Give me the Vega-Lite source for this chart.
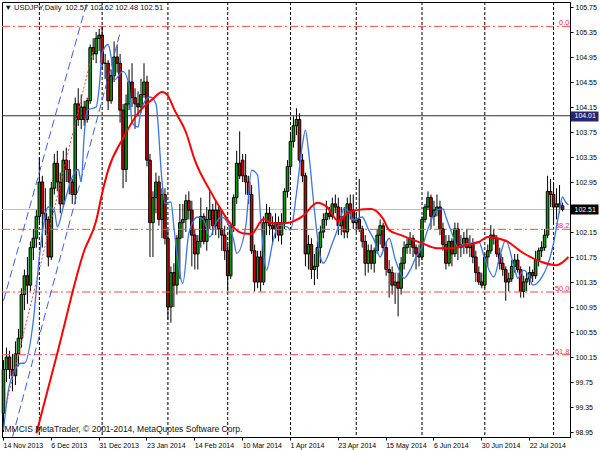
{
"$schema":"https://vega.github.io/schema/vega-lite/v6.json",
"width":568,"height":435,
"autosize":{"type":"none"},
"padding":{"left":2,"top":2,"right":30,"bottom":13},
"background":"white",
"config":{"view":{"stroke":"#000","strokeWidth":1},"font":"Liberation Sans",
 "axis":{"grid":false,"domainColor":"#000","labelFont":"Liberation Sans","labelFontSize":7,"labelOverlap":false,"labelFlush":false,"labelBound":false,"labelColor":"#000","tickColor":"#000"}},
"resolve":{"scale":{"color":"independent","strokeDash":"independent","strokeWidth":"independent"}},
"datasets":{
"bars":[
{"d":"2013-11-14","o":99.25,"h":100.1,"l":98.95,"c":99.95,"f":98.98,"u":101.05},
{"d":"2013-11-15","o":99.95,"h":100.3,"l":99.75,"c":100.15,"r":99.41},
{"d":"2013-11-18","o":100.15,"h":100.25,"l":99.8,"c":99.95,"f":99.7,"w":98.69},
{"d":"2013-11-19","o":99.95,"h":100.2,"l":99.6,"c":99.85},
{"d":"2013-11-20","o":99.85,"h":100.4,"l":99.7,"c":100.2},
{"d":"2013-11-21","o":100.2,"h":100.6,"l":100.0,"c":100.45},
{"d":"2013-11-22","o":100.45,"h":101.25,"l":100.3,"c":101.15,"f":100.05},
{"d":"2013-11-25","o":101.15,"h":101.55,"l":100.9,"c":101.45,"f":100.05},
{"d":"2013-11-26","o":101.45,"h":101.75,"l":101.0,"c":101.3},
{"d":"2013-11-27","o":101.3,"h":102.0,"l":101.2,"c":101.9},
{"d":"2013-11-28","o":101.9,"h":102.2,"l":101.7,"c":102.05,"f":100.74},
{"d":"2013-11-29","o":102.05,"h":102.5,"l":101.9,"c":102.4,"ma":98.93},
{"d":"2013-12-02","o":102.4,"h":103.35,"l":102.3,"c":102.95,"f":101.75,"m":1},
{"d":"2013-12-03","o":102.95,"h":103.05,"l":101.9,"c":102.45},
{"d":"2013-12-04","o":102.45,"h":102.85,"l":102.1,"c":102.35},
{"d":"2013-12-05","o":102.35,"h":102.4,"l":101.6,"c":101.75,"f":102.55},
{"d":"2013-12-06","o":101.75,"h":102.95,"l":101.7,"c":102.85},
{"d":"2013-12-09","o":102.85,"h":103.4,"l":102.75,"c":103.25,"f":102.5},
{"d":"2013-12-10","o":103.25,"h":103.45,"l":102.8,"c":102.95,"f":102.23,"ma":100.21},
{"d":"2013-12-11","o":102.95,"h":103.1,"l":102.45,"c":102.6},
{"d":"2013-12-12","o":102.6,"h":103.45,"l":102.55,"c":103.3,"f":102.55},
{"d":"2013-12-13","o":103.3,"h":103.5,"l":102.95,"c":103.15},
{"d":"2013-12-16","o":103.15,"h":103.3,"l":102.75,"c":102.95},
{"d":"2013-12-17","o":102.95,"h":103.0,"l":102.6,"c":102.75,"f":103.03},
{"d":"2013-12-18","o":102.75,"h":104.3,"l":102.6,"c":104.2},
{"d":"2013-12-19","o":104.2,"h":104.45,"l":103.85,"c":103.95,"f":103.15},
{"d":"2013-12-20","o":103.95,"h":104.35,"l":103.8,"c":104.15,"f":102.95},
{"d":"2013-12-23","o":104.15,"h":104.25,"l":103.85,"c":103.95,"f":103.7,"ma":101.85},
{"d":"2013-12-24","o":103.95,"h":104.3,"l":103.9,"c":104.25,"f":104.1,"u":105.84},
{"d":"2013-12-26","o":104.25,"h":105.15,"l":104.2,"c":105.1},
{"d":"2013-12-27","o":105.1,"h":105.25,"l":104.9,"c":105.0,"r":105.06},
{"d":"2013-12-30","o":105.0,"h":105.35,"l":104.85,"c":105.25,"f":104.15,"ma":102.33},
{"d":"2013-12-31","o":105.25,"h":105.4,"l":105.05,"c":105.3,"f":104.45},
{"d":"2014-01-02","o":105.3,"h":105.44,"l":104.75,"c":104.85,"f":105.01,"ma":102.77,"m":1},
{"d":"2014-01-03","o":104.85,"h":105.0,"l":104.6,"c":104.85},
{"d":"2014-01-06","o":104.85,"h":104.9,"l":104.1,"c":104.25,"f":105.15,"ma":103.14},
{"d":"2014-01-07","o":104.25,"h":104.75,"l":104.2,"c":104.65,"f":104.95},
{"d":"2014-01-08","o":104.65,"h":105.2,"l":104.55,"c":104.95,"f":104.58},
{"d":"2014-01-09","o":104.95,"h":105.15,"l":104.7,"c":104.85},
{"d":"2014-01-10","o":104.85,"h":105.0,"l":103.9,"c":104.1,"w":105.34},
{"d":"2014-01-13","o":104.1,"h":104.2,"l":102.85,"c":103.15,"f":104.72,"ma":103.65},
{"d":"2014-01-14","o":103.15,"h":104.35,"l":102.95,"c":104.2},
{"d":"2014-01-15","o":104.2,"h":104.75,"l":104.1,"c":104.55,"f":104.5},
{"d":"2014-01-16","o":104.55,"h":104.85,"l":104.15,"c":104.3,"f":103.9},
{"d":"2014-01-17","o":104.3,"h":104.45,"l":103.8,"c":104.2},
{"d":"2014-01-20","o":104.2,"h":104.4,"l":104.0,"c":104.15,"f":103.83,"ma":104.05},
{"d":"2014-01-21","o":104.15,"h":104.6,"l":104.05,"c":104.35,"f":104.1},
{"d":"2014-01-22","o":104.35,"h":104.85,"l":104.3,"c":104.55},
{"d":"2014-01-23","o":104.55,"h":104.65,"l":103.2,"c":103.3},
{"d":"2014-01-24","o":103.3,"h":103.4,"l":101.75,"c":102.3,"f":104.31},
{"d":"2014-01-27","o":102.3,"h":102.8,"l":101.75,"c":102.7,"ma":104.28},
{"d":"2014-01-28","o":102.7,"h":103.1,"l":102.45,"c":102.95,"f":104.2},
{"d":"2014-01-29","o":102.95,"h":103.05,"l":102.25,"c":102.35},
{"d":"2014-01-30","o":102.35,"h":102.85,"l":102.05,"c":102.75,"f":102.98,"ma":104.39},
{"d":"2014-01-31","o":102.75,"h":102.85,"l":101.95,"c":102.05,"f":102.61},
{"d":"2014-02-03","o":102.05,"h":102.2,"l":100.75,"c":100.95,"ma":104.33,"m":1},
{"d":"2014-02-04","o":100.95,"h":101.6,"l":100.7,"c":101.5,"f":102.63},
{"d":"2014-02-05","o":101.5,"h":101.65,"l":100.95,"c":101.3,"f":102.23,"ma":104.12},
{"d":"2014-02-06","o":101.3,"h":102.1,"l":101.15,"c":102.05,"f":101.81},
{"d":"2014-02-07","o":102.05,"h":102.6,"l":101.4,"c":102.3},
{"d":"2014-02-10","o":102.3,"h":102.6,"l":102.05,"c":102.35,"f":101.33},
{"d":"2014-02-11","o":102.35,"h":102.75,"l":102.15,"c":102.65,"ma":103.75},
{"d":"2014-02-12","o":102.65,"h":102.8,"l":102.35,"c":102.5,"f":102.13},
{"d":"2014-02-13","o":102.5,"h":102.65,"l":101.6,"c":102.1},
{"d":"2014-02-14","o":102.1,"h":102.2,"l":101.55,"c":101.8,"ma":103.3},
{"d":"2014-02-17","o":101.8,"h":102.1,"l":101.55,"c":102.0,"f":102.39},
{"d":"2014-02-18","o":102.0,"h":102.7,"l":101.9,"c":102.4},
{"d":"2014-02-19","o":102.4,"h":102.45,"l":101.95,"c":102.0,"f":102.34},
{"d":"2014-02-20","o":102.0,"h":102.55,"l":101.85,"c":102.35},
{"d":"2014-02-21","o":102.35,"h":102.8,"l":102.2,"c":102.5,"f":102.07,"ma":102.82},
{"d":"2014-02-24","o":102.5,"h":102.6,"l":102.1,"c":102.25},
{"d":"2014-02-25","o":102.25,"h":102.65,"l":102.1,"c":102.5,"f":102.29},
{"d":"2014-02-26","o":102.5,"h":102.55,"l":102.05,"c":102.2,"ma":102.57},
{"d":"2014-02-27","o":102.2,"h":102.5,"l":101.85,"c":102.1,"f":102.39},
{"d":"2014-02-28","o":102.1,"h":102.25,"l":101.7,"c":101.85},
{"d":"2014-03-03","o":101.85,"h":101.95,"l":101.2,"c":101.45,"f":102.29,"m":1},
{"d":"2014-03-04","o":101.45,"h":102.3,"l":101.4,"c":102.25},
{"d":"2014-03-05","o":102.25,"h":102.75,"l":102.15,"c":102.7,"f":102.02,"ma":102.22},
{"d":"2014-03-06","o":102.7,"h":103.45,"l":102.6,"c":103.25,"f":101.81},
{"d":"2014-03-07","o":103.25,"h":103.76,"l":103.0,"c":103.05},
{"d":"2014-03-10","o":103.3,"h":103.4,"l":102.95,"c":103.05,"ma":102.13},
{"d":"2014-03-11","o":103.05,"h":103.4,"l":102.75,"c":102.95,"f":102.23},
{"d":"2014-03-12","o":102.95,"h":103.05,"l":102.6,"c":102.75},
{"d":"2014-03-13","o":102.75,"h":102.9,"l":101.8,"c":101.85,"f":103.14,"ma":102.12},
{"d":"2014-03-14","o":101.85,"h":101.95,"l":101.2,"c":101.35},
{"d":"2014-03-17","o":101.35,"h":101.85,"l":101.25,"c":101.75,"f":103.06},
{"d":"2014-03-18","o":101.75,"h":101.85,"l":101.2,"c":101.35,"f":102.39},
{"d":"2014-03-19","o":101.35,"h":102.4,"l":101.3,"c":102.3,"ma":102.36},
{"d":"2014-03-20","o":102.3,"h":102.6,"l":102.1,"c":102.45,"f":101.54},
{"d":"2014-03-21","o":102.45,"h":102.55,"l":102.1,"c":102.25},
{"d":"2014-03-24","o":102.25,"h":102.4,"l":101.95,"c":102.2,"f":101.97,"ma":102.29},
{"d":"2014-03-25","o":102.2,"h":102.45,"l":102.05,"c":102.3},
{"d":"2014-03-26","o":102.3,"h":102.4,"l":102.0,"c":102.1,"f":102.26},
{"d":"2014-03-27","o":102.1,"h":102.45,"l":101.95,"c":102.3},
{"d":"2014-03-28","o":102.3,"h":102.85,"l":102.2,"c":102.8,"ma":102.29},
{"d":"2014-03-31","o":102.8,"h":103.3,"l":102.7,"c":103.2,"f":102.23},
{"d":"2014-04-01","o":103.2,"h":103.75,"l":103.1,"c":103.6,"f":102.18,"m":1},
{"d":"2014-04-02","o":103.6,"h":104.0,"l":103.5,"c":103.85},
{"d":"2014-04-03","o":103.85,"h":104.13,"l":103.7,"c":103.95,"f":102.77},
{"d":"2014-04-04","o":103.95,"h":104.05,"l":103.25,"c":103.3},
{"d":"2014-04-07","o":103.3,"h":103.4,"l":102.95,"c":103.05,"f":103.55,"ma":102.4},
{"d":"2014-04-08","o":103.05,"h":103.1,"l":101.6,"c":101.8,"f":103.78},
{"d":"2014-04-09","o":101.8,"h":102.1,"l":101.55,"c":101.95,"f":103.46},
{"d":"2014-04-10","o":101.95,"h":102.05,"l":101.4,"c":101.55},
{"d":"2014-04-11","o":101.55,"h":101.8,"l":101.3,"c":101.6,"f":102.5},
{"d":"2014-04-14","o":101.6,"h":102.0,"l":101.4,"c":101.9,"ma":102.62},
{"d":"2014-04-15","o":101.9,"h":102.25,"l":101.65,"c":102.15,"f":101.75},
{"d":"2014-04-16","o":102.15,"h":102.45,"l":102.05,"c":102.35,"f":101.65},
{"d":"2014-04-17","o":102.35,"h":102.65,"l":102.25,"c":102.45,"ma":102.56},
{"d":"2014-04-18","o":102.45,"h":102.55,"l":102.35,"c":102.4},
{"d":"2014-04-21","o":102.4,"h":102.7,"l":102.35,"c":102.6,"f":101.97},
{"d":"2014-04-22","o":102.6,"h":102.75,"l":102.45,"c":102.55},
{"d":"2014-04-23","o":102.55,"h":102.7,"l":102.1,"c":102.25,"f":102.23,"ma":102.33},
{"d":"2014-04-24","o":102.25,"h":102.55,"l":102.1,"c":102.4},
{"d":"2014-04-25","o":102.4,"h":102.55,"l":102.05,"c":102.15,"f":102.53},
{"d":"2014-04-28","o":102.15,"h":102.7,"l":102.05,"c":102.6,"ma":102.45},
{"d":"2014-04-29","o":102.6,"h":102.75,"l":102.35,"c":102.5,"f":102.43},
{"d":"2014-04-30","o":102.5,"h":102.75,"l":102.2,"c":102.3,"f":102.34},
{"d":"2014-05-01","o":102.3,"h":102.45,"l":102.15,"c":102.35,"ma":102.5,"m":1},
{"d":"2014-05-02","o":102.35,"h":103.0,"l":102.15,"c":102.2},
{"d":"2014-05-05","o":102.2,"h":102.25,"l":101.9,"c":102.0,"f":102.39},
{"d":"2014-05-06","o":102.0,"h":102.1,"l":101.45,"c":101.65},
{"d":"2014-05-07","o":101.65,"h":101.95,"l":101.5,"c":101.85,"f":102.2},
{"d":"2014-05-08","o":101.85,"h":101.95,"l":101.55,"c":101.65,"ma":102.52},
{"d":"2014-05-09","o":101.65,"h":101.9,"l":101.5,"c":101.85,"f":102.02},
{"d":"2014-05-12","o":101.85,"h":102.2,"l":101.8,"c":102.1},
{"d":"2014-05-13","o":102.1,"h":102.35,"l":101.95,"c":102.25,"f":101.75},
{"d":"2014-05-14","o":102.25,"h":102.3,"l":101.85,"c":101.9,"f":101.85,"ma":102.36},
{"d":"2014-05-15","o":101.9,"h":102.0,"l":101.45,"c":101.55},
{"d":"2014-05-16","o":101.55,"h":101.7,"l":101.1,"c":101.5,"f":102.05,"ma":102.18},
{"d":"2014-05-19","o":101.5,"h":101.6,"l":101.15,"c":101.3},
{"d":"2014-05-20","o":101.3,"h":101.5,"l":101.0,"c":101.35,"f":101.72},
{"d":"2014-05-21","o":101.35,"h":101.5,"l":100.8,"c":101.25},
{"d":"2014-05-22","o":101.25,"h":101.75,"l":101.15,"c":101.65,"ma":102.1},
{"d":"2014-05-23","o":101.65,"h":102.0,"l":101.55,"c":101.9,"f":101.41},
{"d":"2014-05-26","o":101.9,"h":102.05,"l":101.8,"c":101.95},
{"d":"2014-05-27","o":101.95,"h":102.15,"l":101.8,"c":102.05,"f":101.54},
{"d":"2014-05-28","o":102.05,"h":102.1,"l":101.75,"c":101.9},
{"d":"2014-05-29","o":101.9,"h":101.95,"l":101.55,"c":101.8,"f":101.75},
{"d":"2014-05-30","o":101.8,"h":101.95,"l":101.6,"c":101.75},
{"d":"2014-06-02","o":101.75,"h":102.4,"l":101.7,"c":102.35,"f":101.91,"ma":101.97,"m":1},
{"d":"2014-06-03","o":102.35,"h":102.6,"l":102.3,"c":102.55},
{"d":"2014-06-04","o":102.55,"h":102.8,"l":102.5,"c":102.7,"f":102.2},
{"d":"2014-06-05","o":102.7,"h":102.75,"l":102.2,"c":102.4},
{"d":"2014-06-06","o":102.4,"h":102.65,"l":102.25,"c":102.5},
{"d":"2014-06-09","o":102.5,"h":102.75,"l":102.4,"c":102.55,"f":102.5,"ma":101.89},
{"d":"2014-06-10","o":102.55,"h":102.65,"l":102.1,"c":102.2},
{"d":"2014-06-11","o":102.2,"h":102.3,"l":101.85,"c":101.95,"f":102.52},
{"d":"2014-06-12","o":101.95,"h":102.1,"l":101.55,"c":101.65,"f":102.39},
{"d":"2014-06-13","o":101.65,"h":102.1,"l":101.6,"c":102.0,"ma":101.89},
{"d":"2014-06-16","o":102.0,"h":102.05,"l":101.6,"c":101.8,"f":102.13},
{"d":"2014-06-17","o":101.8,"h":102.3,"l":101.75,"c":102.2},
{"d":"2014-06-18","o":102.2,"h":102.3,"l":101.7,"c":101.9,"f":101.91},
{"d":"2014-06-19","o":101.9,"h":102.1,"l":101.75,"c":101.95,"f":101.94},
{"d":"2014-06-20","o":101.95,"h":102.15,"l":101.8,"c":102.05},
{"d":"2014-06-23","o":102.05,"h":102.2,"l":101.8,"c":101.9,"ma":101.94},
{"d":"2014-06-24","o":101.9,"h":102.1,"l":101.75,"c":101.95,"f":101.97},
{"d":"2014-06-25","o":101.95,"h":102.05,"l":101.65,"c":101.75},
{"d":"2014-06-26","o":101.75,"h":101.85,"l":101.35,"c":101.5},
{"d":"2014-06-27","o":101.5,"h":101.6,"l":101.3,"c":101.35,"f":101.99,"ma":101.99},
{"d":"2014-06-30","o":101.35,"h":101.5,"l":101.25,"c":101.3},
{"d":"2014-07-01","o":101.3,"h":101.8,"l":101.25,"c":101.75,"f":101.72,"m":1},
{"d":"2014-07-02","o":101.75,"h":101.95,"l":101.6,"c":101.85,"ma":102.07},
{"d":"2014-07-03","o":101.85,"h":102.26,"l":101.8,"c":102.1},
{"d":"2014-07-04","o":102.1,"h":102.2,"l":101.95,"c":102.05,"f":101.43},
{"d":"2014-07-07","o":102.05,"h":102.1,"l":101.75,"c":101.8},
{"d":"2014-07-08","o":101.8,"h":101.9,"l":101.55,"c":101.65,"f":101.75},
{"d":"2014-07-09","o":101.65,"h":101.75,"l":101.45,"c":101.55},
{"d":"2014-07-10","o":101.55,"h":101.6,"l":101.05,"c":101.35,"f":102.02,"ma":102.01},
{"d":"2014-07-11","o":101.35,"h":101.5,"l":101.2,"c":101.4},
{"d":"2014-07-14","o":101.4,"h":101.7,"l":101.35,"c":101.6},
{"d":"2014-07-15","o":101.6,"h":101.8,"l":101.5,"c":101.7,"f":101.55},
{"d":"2014-07-16","o":101.7,"h":101.8,"l":101.5,"c":101.55,"f":101.41},
{"d":"2014-07-17","o":101.55,"h":101.6,"l":101.1,"c":101.2},
{"d":"2014-07-18","o":101.2,"h":101.45,"l":101.1,"c":101.35,"f":101.54,"ma":101.81},
{"d":"2014-07-21","o":101.35,"h":101.5,"l":101.2,"c":101.4},
{"d":"2014-07-22","o":101.4,"h":101.6,"l":101.3,"c":101.5,"f":101.42},
{"d":"2014-07-23","o":101.5,"h":101.55,"l":101.35,"c":101.45,"f":101.3},
{"d":"2014-07-24","o":101.45,"h":101.85,"l":101.4,"c":101.7},
{"d":"2014-07-25","o":101.7,"h":101.9,"l":101.6,"c":101.85},
{"d":"2014-07-28","o":101.85,"h":102.0,"l":101.75,"c":101.9,"f":101.42,"ma":101.67},
{"d":"2014-07-29","o":101.9,"h":102.2,"l":101.85,"c":102.1},
{"d":"2014-07-30","o":102.1,"h":103.05,"l":102.05,"c":102.8,"f":101.62},
{"d":"2014-07-31","o":102.8,"h":103.0,"l":102.55,"c":102.75},
{"d":"2014-08-01","o":102.75,"h":102.95,"l":102.3,"c":102.55,"f":101.97,"m":1},
{"d":"2014-08-04","o":102.55,"h":102.85,"l":102.35,"c":102.6,"ma":101.62},
{"d":"2014-08-05","o":102.6,"h":102.9,"l":102.45,"c":102.55,"f":102.5},
{"d":"2014-08-06","o":102.57,"h":102.62,"l":102.48,"c":102.51,"f":102.71},
{"d":"2014-08-07","f":102.63},
{"d":"2014-08-08","f":102.58,"ma":101.75}
],
"levels":[
{"p":105.44,"k":"fib","lab":"0.0"},
{"p":102.193,"k":"fib","lab":"38.2"},
{"p":101.19,"k":"fib","lab":"50.0"},
{"p":100.187,"k":"fib","lab":"61.8"},
{"p":104.01,"k":"hl","lab":""},
{"p":102.51,"k":"bid","lab":""}
]
},
"data":{"name":"bars"},
"layer":[
{"transform":[{"filter":"datum.m == 1"}],
 "mark":{"type":"rule","strokeDash":[3,2],"color":"#000","strokeWidth":1},
 "encoding":{
  "x":{"field":"d","type":"ordinal","title":null,"scale":{"type":"band","paddingInner":0,"paddingOuter":0},
   "axis":{"orient":"bottom","values":["2013-11-14","2013-12-06","2013-12-31","2014-01-23","2014-02-14","2014-03-10","2014-04-01","2014-04-23","2014-05-15","2014-06-06","2014-06-30","2014-07-22"],"labelExpr":"utcFormat(toDate(datum.value), '%-d %b %Y')","labelAngle":0,"labelAlign":"left","labelBaseline":"alphabetic","labelPadding":7,"tickSize":3}}}},
{"data":{"name":"levels"},"transform":[{"filter":"datum.k == 'bid'"}],
 "mark":{"type":"rule","color":"#c0c0c0","strokeWidth":1},
 "encoding":{"y":{"field":"p","type":"quantitative","title":null,"scale":{"domain":[98.87,105.83],"nice":false,"zero":false},
   "axis":{"orient":"right","values":[98.95,99.35,99.75,100.15,100.55,100.95,101.35,101.75,102.15,102.95,103.35,103.75,104.15,104.55,104.95,105.35,105.75,104.01,102.51],"format":".2f","labelPadding":{"condition":{"test":"datum.value == 104.01 || datum.value == 102.51","value":-24},"value":2},"tickColor":{"condition":{"test":"datum.value == 104.01","value":"#26266e"},"value":"#000"},"tickSize":{"condition":{"test":"datum.value == 104.01 || datum.value == 102.51","value":28},"value":3},"tickWidth":{"condition":{"test":"datum.value == 104.01 || datum.value == 102.51","value":10},"value":1},"labelColor":{"condition":{"test":"datum.value == 104.01 || datum.value == 102.51","value":"#ffffff"},"value":"#000"}}}}},
{"transform":[{"filter":"isValid(datum.o)"}],
 "mark":{"type":"rule","color":"#000","strokeWidth":1},
 "encoding":{
  "x":{"field":"d","type":"ordinal","title":null,"axis":{"orient":"bottom","values":["2013-11-14","2013-12-06","2013-12-31","2014-01-23","2014-02-14","2014-03-10","2014-04-01","2014-04-23","2014-05-15","2014-06-06","2014-06-30","2014-07-22"],"labelExpr":"utcFormat(toDate(datum.value), '%-d %b %Y')","labelAngle":0,"labelAlign":"left","labelBaseline":"alphabetic","labelPadding":7,"tickSize":3}},
  "y":{"field":"l","type":"quantitative","title":null,"axis":{"orient":"right","values":[98.95,99.35,99.75,100.15,100.55,100.95,101.35,101.75,102.15,102.95,103.35,103.75,104.15,104.55,104.95,105.35,105.75,104.01,102.51],"format":".2f","labelPadding":{"condition":{"test":"datum.value == 104.01 || datum.value == 102.51","value":-24},"value":2},"tickColor":{"condition":{"test":"datum.value == 104.01","value":"#26266e"},"value":"#000"},"tickSize":{"condition":{"test":"datum.value == 104.01 || datum.value == 102.51","value":28},"value":3},"tickWidth":{"condition":{"test":"datum.value == 104.01 || datum.value == 102.51","value":10},"value":1},"labelColor":{"condition":{"test":"datum.value == 104.01 || datum.value == 102.51","value":"#ffffff"},"value":"#000"}}},
  "y2":{"field":"h"}}},
{"transform":[{"filter":"isValid(datum.o)"}],
 "mark":{"type":"bar","width":2.6,"stroke":"#000","strokeWidth":1},
 "encoding":{
  "x":{"field":"d","type":"ordinal","title":null,"axis":{"orient":"bottom","values":["2013-11-14","2013-12-06","2013-12-31","2014-01-23","2014-02-14","2014-03-10","2014-04-01","2014-04-23","2014-05-15","2014-06-06","2014-06-30","2014-07-22"],"labelExpr":"utcFormat(toDate(datum.value), '%-d %b %Y')","labelAngle":0,"labelAlign":"left","labelBaseline":"alphabetic","labelPadding":7,"tickSize":3}},
  "y":{"field":"o","type":"quantitative","title":null,"axis":{"orient":"right","values":[98.95,99.35,99.75,100.15,100.55,100.95,101.35,101.75,102.15,102.95,103.35,103.75,104.15,104.55,104.95,105.35,105.75,104.01,102.51],"format":".2f","labelPadding":{"condition":{"test":"datum.value == 104.01 || datum.value == 102.51","value":-24},"value":2},"tickColor":{"condition":{"test":"datum.value == 104.01","value":"#26266e"},"value":"#000"},"tickSize":{"condition":{"test":"datum.value == 104.01 || datum.value == 102.51","value":28},"value":3},"tickWidth":{"condition":{"test":"datum.value == 104.01 || datum.value == 102.51","value":10},"value":1},"labelColor":{"condition":{"test":"datum.value == 104.01 || datum.value == 102.51","value":"#ffffff"},"value":"#000"}}},
  "y2":{"field":"c"},
  "fill":{"condition":{"test":"datum.c >= datum.o","value":"#00a000"},"value":"#d00000"}}},
{"data":{"name":"levels"},"transform":[{"filter":"datum.k != 'bid'"}],
 "mark":{"type":"rule","strokeWidth":1},
 "encoding":{
  "y":{"field":"p","type":"quantitative","title":null,"axis":{"orient":"right","values":[98.95,99.35,99.75,100.15,100.55,100.95,101.35,101.75,102.15,102.95,103.35,103.75,104.15,104.55,104.95,105.35,105.75,104.01,102.51],"format":".2f","labelPadding":{"condition":{"test":"datum.value == 104.01 || datum.value == 102.51","value":-24},"value":2},"tickColor":{"condition":{"test":"datum.value == 104.01","value":"#26266e"},"value":"#000"},"tickSize":{"condition":{"test":"datum.value == 104.01 || datum.value == 102.51","value":28},"value":3},"tickWidth":{"condition":{"test":"datum.value == 104.01 || datum.value == 102.51","value":10},"value":1},"labelColor":{"condition":{"test":"datum.value == 104.01 || datum.value == 102.51","value":"#ffffff"},"value":"#000"}}},
  "color":{"field":"k","type":"nominal","scale":{"domain":["fib","hl"],"range":["#ff4a4a","#26266e"]},"legend":null},
  "strokeDash":{"field":"k","type":"nominal","scale":{"domain":["fib","hl"],"range":[[8,3,2,3],[1,0]]},"legend":null}}},
{"transform":[{"fold":["u","w","r"],"as":["tl","tv"]},{"filter":"isValid(datum.tv)"}],
 "mark":{"type":"line","strokeWidth":1,"clip":true},
 "encoding":{
  "x":{"field":"d","type":"ordinal","title":null,"axis":{"orient":"bottom","values":["2013-11-14","2013-12-06","2013-12-31","2014-01-23","2014-02-14","2014-03-10","2014-04-01","2014-04-23","2014-05-15","2014-06-06","2014-06-30","2014-07-22"],"labelExpr":"utcFormat(toDate(datum.value), '%-d %b %Y')","labelAngle":0,"labelAlign":"left","labelBaseline":"alphabetic","labelPadding":7,"tickSize":3}},
  "y":{"field":"tv","type":"quantitative","title":null,"axis":{"orient":"right","values":[98.95,99.35,99.75,100.15,100.55,100.95,101.35,101.75,102.15,102.95,103.35,103.75,104.15,104.55,104.95,105.35,105.75,104.01,102.51],"format":".2f","labelPadding":{"condition":{"test":"datum.value == 104.01 || datum.value == 102.51","value":-24},"value":2},"tickColor":{"condition":{"test":"datum.value == 104.01","value":"#26266e"},"value":"#000"},"tickSize":{"condition":{"test":"datum.value == 104.01 || datum.value == 102.51","value":28},"value":3},"tickWidth":{"condition":{"test":"datum.value == 104.01 || datum.value == 102.51","value":10},"value":1},"labelColor":{"condition":{"test":"datum.value == 104.01 || datum.value == 102.51","value":"#ffffff"},"value":"#000"}}},
  "detail":{"field":"tl"},
  "color":{"field":"tl","type":"nominal","scale":{"domain":["u","w","r"],"range":["#3a5ff0","#3a5ff0","#ff4040"]},"legend":null},
  "strokeDash":{"field":"tl","type":"nominal","scale":{"domain":["u","w","r"],"range":[[8,4],[8,4],[2,2]]},"legend":null}}},
{"transform":[{"fold":["ma","f"],"as":["ml","mv"]},{"filter":"isValid(datum.mv)"}],
 "mark":{"type":"line","interpolate":"monotone","clip":true},
 "encoding":{
  "x":{"field":"d","type":"ordinal","title":null,"axis":{"orient":"bottom","values":["2013-11-14","2013-12-06","2013-12-31","2014-01-23","2014-02-14","2014-03-10","2014-04-01","2014-04-23","2014-05-15","2014-06-06","2014-06-30","2014-07-22"],"labelExpr":"utcFormat(toDate(datum.value), '%-d %b %Y')","labelAngle":0,"labelAlign":"left","labelBaseline":"alphabetic","labelPadding":7,"tickSize":3}},
  "y":{"field":"mv","type":"quantitative","title":null,"axis":{"orient":"right","values":[98.95,99.35,99.75,100.15,100.55,100.95,101.35,101.75,102.15,102.95,103.35,103.75,104.15,104.55,104.95,105.35,105.75,104.01,102.51],"format":".2f","labelPadding":{"condition":{"test":"datum.value == 104.01 || datum.value == 102.51","value":-24},"value":2},"tickColor":{"condition":{"test":"datum.value == 104.01","value":"#26266e"},"value":"#000"},"tickSize":{"condition":{"test":"datum.value == 104.01 || datum.value == 102.51","value":28},"value":3},"tickWidth":{"condition":{"test":"datum.value == 104.01 || datum.value == 102.51","value":10},"value":1},"labelColor":{"condition":{"test":"datum.value == 104.01 || datum.value == 102.51","value":"#ffffff"},"value":"#000"}}},
  "detail":{"field":"ml"},
  "color":{"field":"ml","type":"nominal","scale":{"domain":["ma","f"],"range":["#ff0000","#3d74e8"]},"legend":null},
  "strokeWidth":{"field":"ml","type":"nominal","scale":{"domain":["ma","f"],"range":[2,1.3]},"legend":null}}},
{"data":{"name":"levels"},"transform":[{"filter":"datum.k == 'fib'"}],
 "mark":{"type":"text","align":"right","baseline":"alphabetic","dy":-1,"dx":1,"font":"Liberation Sans","fontSize":7.5,"color":"#ff3030"},
 "encoding":{
  "x":{"datum":"2014-08-08","type":"ordinal","title":null,"axis":{"orient":"bottom","values":["2013-11-14","2013-12-06","2013-12-31","2014-01-23","2014-02-14","2014-03-10","2014-04-01","2014-04-23","2014-05-15","2014-06-06","2014-06-30","2014-07-22"],"labelExpr":"utcFormat(toDate(datum.value), '%-d %b %Y')","labelAngle":0,"labelAlign":"left","labelBaseline":"alphabetic","labelPadding":7,"tickSize":3}},
  "y":{"field":"p","type":"quantitative","title":null,"axis":{"orient":"right","values":[98.95,99.35,99.75,100.15,100.55,100.95,101.35,101.75,102.15,102.95,103.35,103.75,104.15,104.55,104.95,105.35,105.75,104.01,102.51],"format":".2f","labelPadding":{"condition":{"test":"datum.value == 104.01 || datum.value == 102.51","value":-24},"value":2},"tickColor":{"condition":{"test":"datum.value == 104.01","value":"#26266e"},"value":"#000"},"tickSize":{"condition":{"test":"datum.value == 104.01 || datum.value == 102.51","value":28},"value":3},"tickWidth":{"condition":{"test":"datum.value == 104.01 || datum.value == 102.51","value":10},"value":1},"labelColor":{"condition":{"test":"datum.value == 104.01 || datum.value == 102.51","value":"#ffffff"},"value":"#000"}}},
  "text":{"field":"lab"}}},
{"data":{"values":[{"t":"MMCIS MetaTrader, © 2001-2014, MetaQuotes Software Corp.","p":98.95,"s":8.5},{"t":"▼ USDJPY,Daily\u2002102.57 102.62 102.48 102.51","p":105.7,"s":7.5}]},
 "mark":{"type":"text","align":"left","baseline":"alphabetic","font":"Liberation Sans","color":"#111","dx":1},
 "encoding":{
  "x":{"datum":"2013-11-14","type":"ordinal","title":null,"axis":{"orient":"bottom","values":["2013-11-14","2013-12-06","2013-12-31","2014-01-23","2014-02-14","2014-03-10","2014-04-01","2014-04-23","2014-05-15","2014-06-06","2014-06-30","2014-07-22"],"labelExpr":"utcFormat(toDate(datum.value), '%-d %b %Y')","labelAngle":0,"labelAlign":"left","labelBaseline":"alphabetic","labelPadding":7,"tickSize":3}},
  "y":{"field":"p","type":"quantitative","title":null,"axis":{"orient":"right","values":[98.95,99.35,99.75,100.15,100.55,100.95,101.35,101.75,102.15,102.95,103.35,103.75,104.15,104.55,104.95,105.35,105.75,104.01,102.51],"format":".2f","labelPadding":{"condition":{"test":"datum.value == 104.01 || datum.value == 102.51","value":-24},"value":2},"tickColor":{"condition":{"test":"datum.value == 104.01","value":"#26266e"},"value":"#000"},"tickSize":{"condition":{"test":"datum.value == 104.01 || datum.value == 102.51","value":28},"value":3},"tickWidth":{"condition":{"test":"datum.value == 104.01 || datum.value == 102.51","value":10},"value":1},"labelColor":{"condition":{"test":"datum.value == 104.01 || datum.value == 102.51","value":"#ffffff"},"value":"#000"}}},
  "text":{"field":"t"},
  "size":{"field":"s","type":"quantitative","scale":null}}}
]
}
